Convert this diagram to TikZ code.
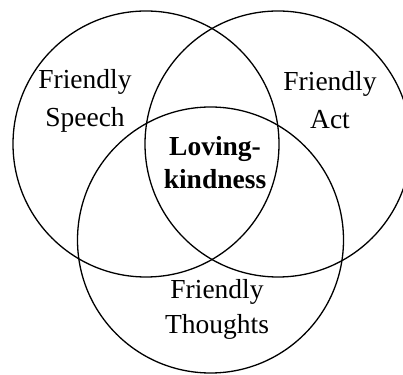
\documentclass[tikz,border=0pt]{standalone}
\usepackage{fontspec}
\setmainfont{Liberation Serif}

\begin{document}
\begin{tikzpicture}[
  x=1pt, y=1pt,
  line cap=round, line join=round,
  ring/.style={draw=black, line width=1.3pt},
  lbl/.style={align=center, font=\fontsize{27.5}{38}\selectfont},
  core/.style={align=center, font=\fontsize{27.5}{33}\selectfont\bfseries}
]
\useasboundingbox (0,0) rectangle (403,374);

% 三个圆
\def\r{133}
\coordinate (speech) at (146,230);
\coordinate (act) at (278,230);
\coordinate (thought) at (210.5,134);
\draw[ring] (speech) circle (\r);
\draw[ring] (act) circle (\r);
\draw[ring] (thought) circle (\r);

% 标注
\node[lbl] (speechlbl) at (85,273) {Friendly\\Speech};
\node[lbl] (actlbl) at (330,274) {Friendly\\Act};
\node[core] (lovelbl) at (215,211) {Loving-\\kindness};
\node[lbl, font=\fontsize{27.5}{35}\selectfont] (thoughtlbl) at (217,65) {Friendly\\Thoughts};
\end{tikzpicture}
\end{document}
